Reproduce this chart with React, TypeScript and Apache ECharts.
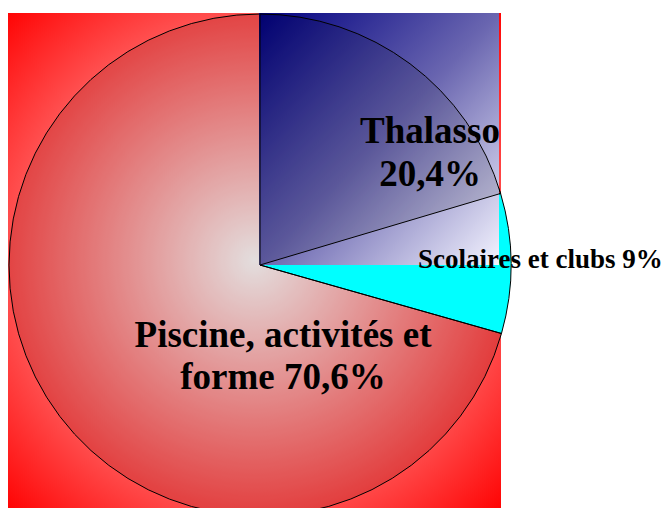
import React, { useEffect, useRef } from "react";
import * as echarts from "echarts";

const names = ["Thalasso", "Scolaires et clubs", "Piscine, activités et\nforme"];
const values = [20.4, 9, 70.6];
const separators = ["\n", " ", " "];

const FONT = '"Liberation Serif", "Times New Roman", serif';

export default function App() {
  const ref = useRef<HTMLDivElement>(null);
  useEffect(() => {
    if (!ref.current) return;
    const chart = echarts.init(ref.current, null, { renderer: "svg" });
    const data = names.map((n, i) => ({ name: n, value: values[i] }));
    const fmt = (v: number) => String(v).replace(".", ",");
    const labelPos = [
      { x: 430, y: 152, align: "center", fontSize: 37, lineHeight: 43 },
      { x: 418, y: 259, align: "left", fontSize: 27, lineHeight: 32 },
      { x: 283, y: 355, align: "center", fontSize: 37, lineHeight: 42 },
    ];
    const option: any = {
      animation: false,
      graphic: [
        {
          type: "rect",
          z: 0,
          shape: { x: 8, y: 13, width: 493, height: 495 },
          style: {
            fill: {
              type: "radial",
              x: 0.5,
              y: 0.5,
              r: 0.72,
              colorStops: [
                { offset: 0, color: "#FFFFFF" },
                { offset: 1, color: "#FF0000" },
              ],
            },
          },
        },
        {
          type: "rect",
          z: 2,
          shape: { x: 259, y: 13, width: 240, height: 252 },
          style: {
            fill: {
              type: "linear",
              x: 0,
              y: 0,
              x2: 1,
              y2: 1,
              colorStops: [
                { offset: 0, color: "#000080" },
                { offset: 0.5, color: "#6A66B0" },
                { offset: 1, color: "#F4F4FF" },
              ],
            },
          },
        },
      ],
      series: [
        {
          type: "pie",
          z: 1,
          center: [260, 265],
          radius: 251,
          startAngle: 90,
          clockwise: true,
          silent: true,
          label: { show: false },
          labelLine: { show: false },
          data: data.map((d, i) => ({
            ...d,
            itemStyle: {
              color: i === 0 ? "rgba(0,0,0,0)" : i === 1 ? "#00FFFF" : "rgba(40,0,0,0.13)",
              borderColor: "#000000",
              borderWidth: 1,
            },
          })),
        },
        {
          type: "pie",
          z: 3,
          center: [260, 265],
          radius: 251,
          startAngle: 90,
          clockwise: true,
          silent: true,
          labelLine: { show: false },
          label: {
            show: true,
            position: "inside",
            fontFamily: FONT,
            fontWeight: "bold",
            color: "#000000",
            formatter: (p: any) => `${p.name}${separators[p.dataIndex]}${fmt(p.value)}%`,
          },
          labelLayout: (p: any) => {
            const l = labelPos[p.dataIndex];
            return { x: l.x, y: l.y, align: l.align, verticalAlign: "middle" };
          },
          data: data.map((d, i) => ({
            ...d,
            label: {
              fontSize: labelPos[i].fontSize,
              lineHeight: labelPos[i].lineHeight,
              align: labelPos[i].align,
            },
            itemStyle:
              i === 0
                ? { color: "rgba(0,0,20,0.14)", borderColor: "#000000", borderWidth: 1 }
                : { color: "rgba(0,0,0,0)", borderWidth: 0 },
          })),
        },
      ],
    };
    chart.setOption(option);
    return () => chart.dispose();
  }, []);
  return (
    <div
      ref={ref}
      style={{ position: "fixed", left: 0, top: 0, width: 662, height: 508, background: "#FFFFFF" }}
    />
  );
}
